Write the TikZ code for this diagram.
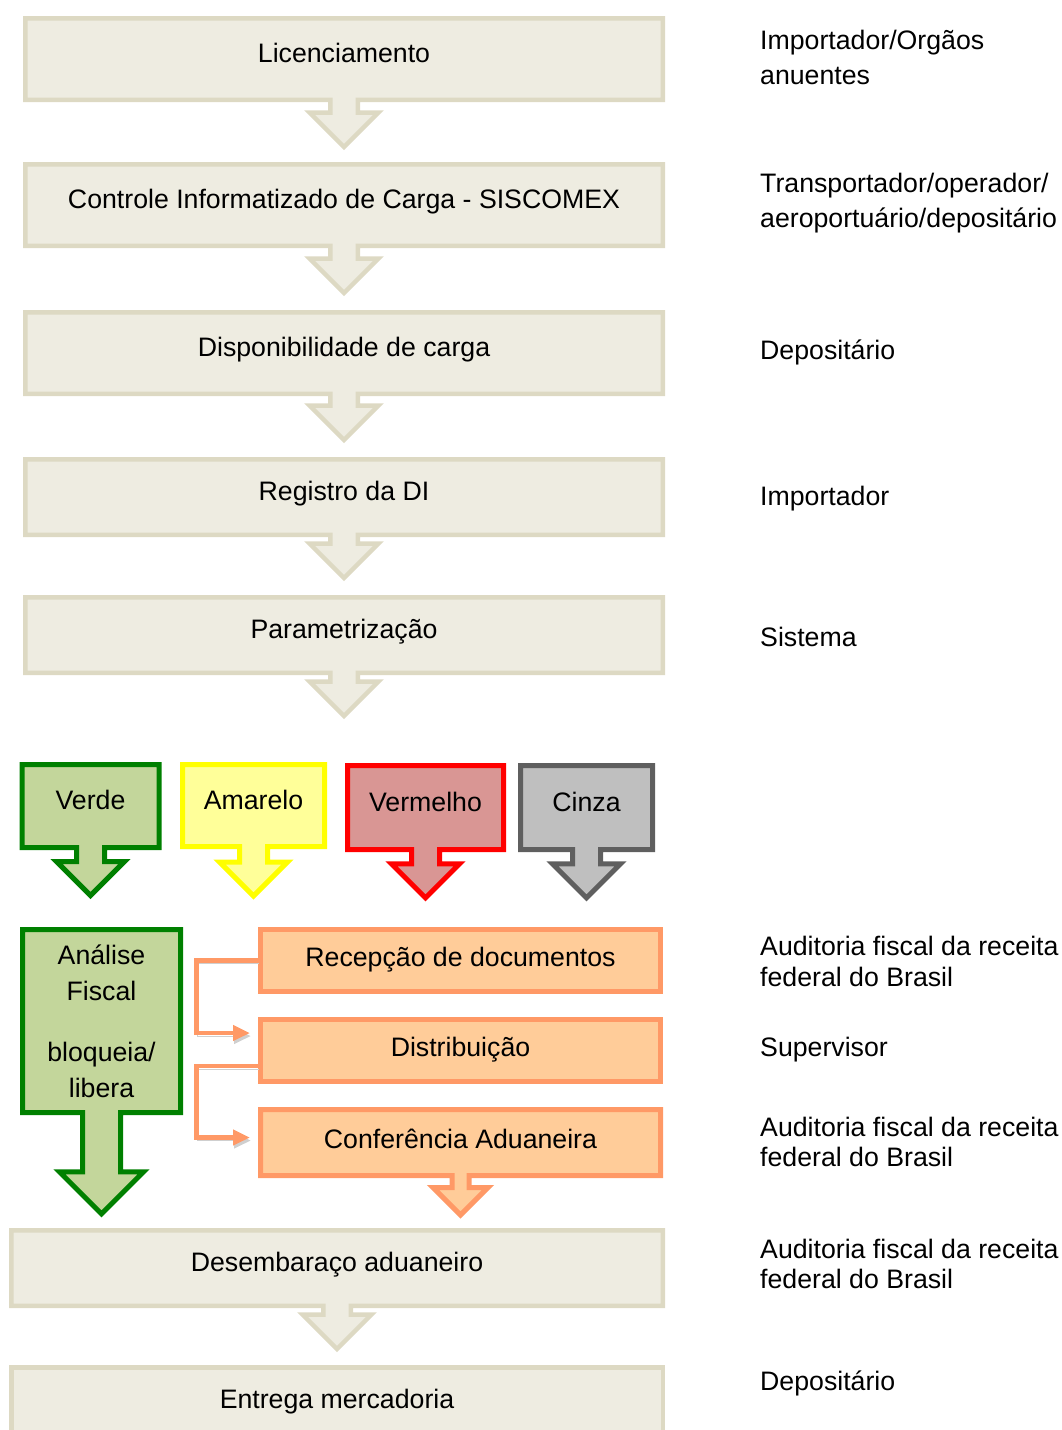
\documentclass[tikz,border=0pt]{standalone}
\usepackage{fontspec}
\setmainfont{Liberation Sans}
\usetikzlibrary{calc, shapes.arrows, arrows.meta}

\begin{document}
\begin{tikzpicture}[x=1pt, y=-1pt,
    stage/.style={draw=stageBorder, fill=stageFill, line width=4.5pt,
      minimum width=637.5pt, inner sep=0pt, text height=20pt, text depth=13pt,
      font=\fontsize{26.7}{31}\selectfont},
    stageArrow/.style={stage, arrow box, arrow box shaft width=27.5pt,
      arrow box head extend=20.75pt, arrow box tip angle=90,
      arrow box arrows={south:#1pt}},
    channel/.style 2 args={arrow box, draw=#1, fill=#2, line width=5pt,
      inner sep=0pt, text height=20pt, text depth=13pt,
      font=\fontsize{26.7}{31}\selectfont, arrow box shaft width=28pt,
      arrow box head extend=20pt, arrow box tip angle=90},
    task/.style={draw=taskBorder, fill=taskFill, line width=5pt,
      minimum width=400pt, minimum height=62pt, inner sep=0pt,
      text height=20pt, text depth=9pt, font=\fontsize{26.7}{31}\selectfont},
    flow/.style={draw=taskBorder, line width=4.5pt, line join=miter,
      -{Triangle[length=17pt,width=15pt]},
      preaction={draw=shadowGrey, transform canvas={shift={(1pt,-3pt)}}}},
    role/.style={anchor=base west, align=left, inner sep=0pt,
      font=\fontsize{26.7}{35}\selectfont},
    roleTight/.style={role, font=\fontsize{26.7}{30.5}\selectfont}]
  % Define colours
  \definecolor{stageBorder}{HTML}{DDD9C3}
  \definecolor{stageFill}{HTML}{EEECE1}
  \definecolor{verdeBorder}{HTML}{008000}
  \definecolor{verdeFill}{HTML}{C3D69B}
  \definecolor{amareloBorder}{HTML}{FFFF00}
  \definecolor{amareloFill}{HTML}{FFFF99}
  \definecolor{vermelhoBorder}{HTML}{FF0000}
  \definecolor{vermelhoFill}{HTML}{D99694}
  \definecolor{cinzaBorder}{HTML}{5F5F5F}
  \definecolor{cinzaFill}{HTML}{BFBFBF}
  \definecolor{taskBorder}{HTML}{FF9966}
  \definecolor{taskFill}{HTML}{FFCC99}
  \definecolor{shadowGrey}{HTML}{CFCFCF}

  % Fix the page size
  \useasboundingbox (0,0) rectangle (1061,1430);

  % Main steps
  \node[stageArrow=45, minimum height=81.5pt] (licenc) at (344,59) {Licenciamento};
  \node[stageArrow=45, minimum height=81.5pt] (carga) at (344,205) {Controle Informatizado de Carga - SISCOMEX};
  \node[stageArrow=44, minimum height=81.5pt] (dispon) at (344,353) {Disponibilidade de carga};
  \node[stageArrow=41, minimum height=75.5pt] (registro) at (344,497) {Registro da DI};
  \node[stageArrow=41, minimum height=75.5pt] (param) at (344,635) {Parametrização};

  % Channels
  \node[channel={verdeBorder}{verdeFill}, minimum width=137pt, minimum height=83pt,
    arrow box arrows={south:45.5pt}] (verde) at (90.5,806) {Verde};
  \node[channel={amareloBorder}{amareloFill}, minimum width=142pt, minimum height=82pt,
    arrow box arrows={south:47pt}] (amarelo) at (253.5,805.5) {Amarelo};
  \node[channel={vermelhoBorder}{vermelhoFill}, minimum width=156pt, minimum height=84pt,
    arrow box arrows={south:45.8pt}] (vermelho) at (425.5,807.5) {Vermelho};
  \node[channel={cinzaBorder}{cinzaFill}, minimum width=132pt, minimum height=84pt,
    arrow box arrows={south:45.8pt}] (cinza) at (586.5,807.5) {Cinza};

  % Fiscal analysis and conference
  \node[channel={verdeBorder}{verdeFill}, minimum width=158pt, minimum height=183pt,
    text height=, text depth=, align=center, font=\fontsize{26.7}{36}\selectfont,
    arrow box shaft width=38pt, arrow box head extend=23pt,
    arrow box arrows={south:98.8pt}] (analise) at (101.5,1021)
    {Análise\\Fiscal\\[25pt]bloqueia/\\libera};
  \node[task] (recep) at (460.5,960.5) {Recepção de documentos};
  \node[task] (distr) at (460.5,1050.5) {Distribuição};
  \node[task, arrow box, minimum height=66pt, arrow box shaft width=17pt,
    arrow box head extend=19pt, arrow box tip angle=90,
    arrow box arrows={south:37pt}] (confer) at (460.5,1142.5) {Conferência Aduaneira};
  \draw[flow] (recep.west) -- ++(-61.5,0) |- ($(distr.west)+(-8,-17.5)$);
  \draw[flow] ($(distr.west)+(0,15.5)$) -- ++(-61.5,0) |- ($(confer.west)+(-8,-5)$);

  % Final steps
  \node[stageArrow=41, minimum width=651.5pt, minimum height=75.5pt] (desemb) at (337,1268) {Desembaraço aduaneiro};
  \node[stage, minimum width=651.5pt, minimum height=75.5pt] (entrega) at (337,1405) {Entrega mercadoria};

  % Who is responsible (base is the last line)
  \node[role] (rLicenc) at (760,84) {Importador/Orgãos\\anuentes};
  \node[role] (rCarga) at (760,227) {Transportador/operador/\\aeroportuário/depositário};
  \node[role] (rDispon) at (760,359) {Depositário};
  \node[role] (rRegistro) at (760,505) {Importador};
  \node[role] (rParam) at (760,646) {Sistema};
  \node[roleTight] (rRecep) at (760,986) {Auditoria fiscal da receita\\federal do Brasil};
  \node[role] (rDistr) at (760,1056) {Supervisor};
  \node[roleTight] (rConfer) at (760,1166.5) {Auditoria fiscal da receita\\federal do Brasil};
  \node[roleTight] (rDesemb) at (760,1288.5) {Auditoria fiscal da receita\\federal do Brasil};
  \node[role] (rEntrega) at (760,1390) {Depositário};
\end{tikzpicture}
\end{document}
